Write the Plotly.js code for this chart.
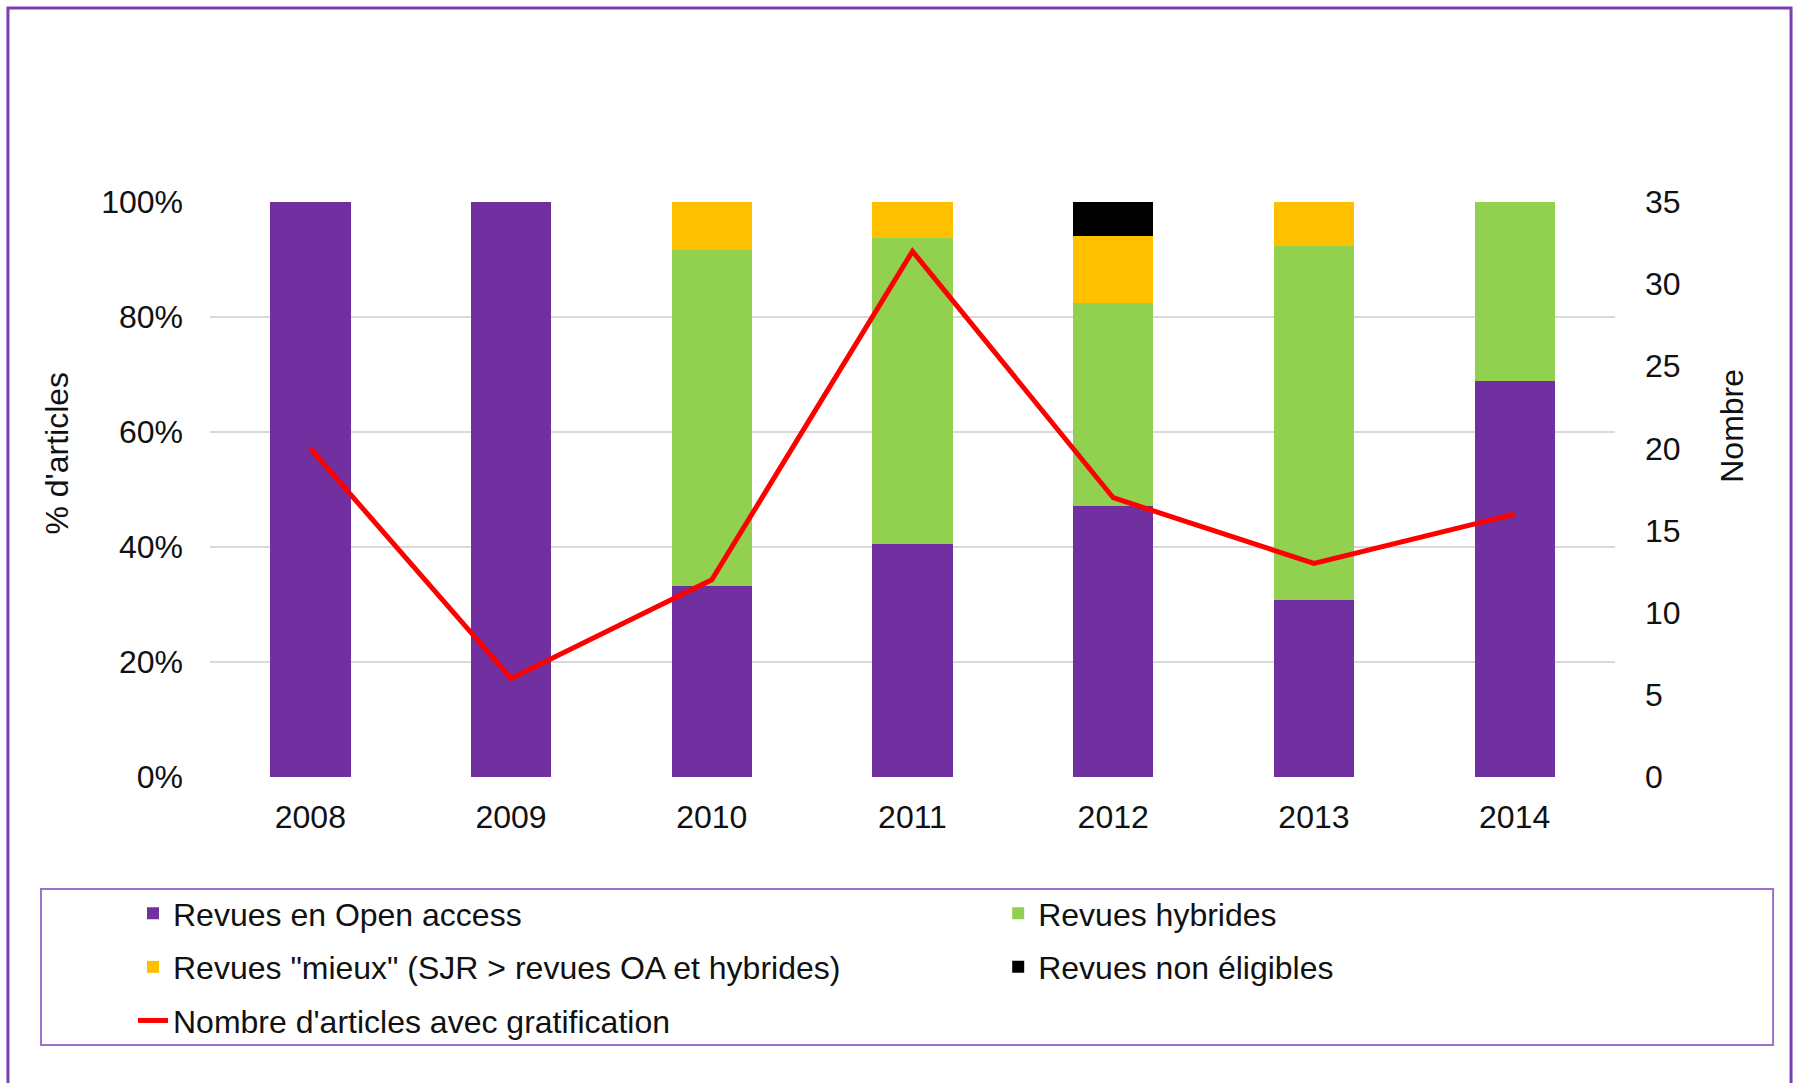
<!DOCTYPE html>
<html>
<head>
<meta charset="utf-8">
<script src="https://cdn.plot.ly/plotly-3.0.1.min.js"></script>
<style>
html, body { margin: 0; padding: 0; background: #fff; }
#chart { width: 1796px; height: 1083px; }
</style>
</head>
<body>
<div id="chart"></div>
<script>
const years = ['2008', '2009', '2010', '2011', '2012', '2013', '2014'];
const openAccess = [1.0, 1.0, 0.333, 0.406, 0.471, 0.308, 0.688];
const hybrides = [0, 0, 0.583, 0.531, 0.353, 0.615, 0.312];
const mieux = [0, 0, 0.084, 0.063, 0.117, 0.077, 0];
const nonEligibles = [0, 0, 0, 0, 0.059, 0, 0];
const nombreArticles = [20, 6, 12, 32, 17, 13, 16];
const leftTitle = "% d'articles";
const rightTitle = 'Nombre';

const FONT = 'Liberation Sans, Arial, sans-serif';
const fs = 32;

const traces = [
  { type: 'bar', name: 'Revues en Open access', x: years, y: openAccess,
    marker: { color: '#7030A0', line: { width: 0 } }, legend: 'legend', legendgroup: 'a' },
  { type: 'bar', name: 'Revues hybrides', x: years, y: hybrides,
    marker: { color: '#92D050', line: { width: 0 } }, legend: 'legend2', legendgroup: 'b' },
  { type: 'bar', name: 'Revues "mieux" (SJR > revues OA et hybrides)', x: years, y: mieux,
    marker: { color: '#FFC000', line: { width: 0 } }, legend: 'legend', legendgroup: 'c' },
  { type: 'bar', name: 'Revues non éligibles', x: years, y: nonEligibles,
    marker: { color: '#000000', line: { width: 0 } }, legend: 'legend2', legendgroup: 'd' },
  { type: 'scatter', mode: 'lines', name: "Nombre d'articles avec gratification", x: years, y: nombreArticles,
    yaxis: 'y2', line: { color: '#FF0000', width: 5 }, legend: 'legend', legendgroup: 'e' }
];

const legendCommon = {
  orientation: 'v', xanchor: 'left', yanchor: 'top',
  font: { family: FONT, size: fs, color: '#111' },
  bgcolor: 'rgba(0,0,0,0)', borderwidth: 0,
  traceorder: 'grouped', tracegroupgap: 9, itemwidth: 30
};

const layout = {
  width: 1796, height: 1083,
  paper_bgcolor: '#ffffff', plot_bgcolor: '#ffffff',
  margin: { l: 210, r: 181, t: 202, b: 306, autoexpand: false },
  barmode: 'stack', bargap: 0.6,
  font: { family: FONT, size: fs, color: '#111' },
  showlegend: true,
  legend: Object.assign({}, legendCommon, { x: -0.0548, y: -0.1895 }),
  legend2: Object.assign({}, legendCommon, { x: 0.561, y: -0.1895 }),
  xaxis: {
    type: 'category', showgrid: false, zeroline: false, showline: false,
    ticks: '', ticklabelstandoff: 18,
    tickfont: { family: FONT, size: fs, color: '#111' }
  },
  yaxis: {
    range: [0, 1], dtick: 0.2, tick0: 0, tickformat: '.0%',
    showgrid: true, gridcolor: '#D9D9D9', gridwidth: 1.5, zeroline: false, showline: false,
    ticks: '', ticklabelstandoff: 26, automargin: false,
    tickfont: { family: FONT, size: fs, color: '#111' }
  },
  yaxis2: {
    overlaying: 'y', side: 'right', range: [0, 35], dtick: 5, tick0: 0,
    showgrid: false, zeroline: false, showline: false,
    ticks: '', ticklabelstandoff: 29, automargin: false,
    tickfont: { family: FONT, size: fs, color: '#111' }
  },
  annotations: [
    { text: leftTitle, xref: 'paper', yref: 'paper', x: -0.1089, y: 0.5643,
      xanchor: 'center', yanchor: 'middle', textangle: -90, showarrow: false,
      font: { family: FONT, size: fs, color: '#111' } },
    { text: rightTitle, xref: 'paper', yref: 'paper', x: 1.0831, y: 0.6104,
      xanchor: 'center', yanchor: 'middle', textangle: -90, showarrow: false,
      font: { family: FONT, size: fs, color: '#111' } }
  ],
  shapes: [
    { type: 'rect', xref: 'paper', yref: 'paper', x0: -0.1438, x1: 1.1253, y0: -0.56, y1: 1.3374,
      line: { color: '#7A3FB0', width: 3 }, fillcolor: 'rgba(0,0,0,0)', layer: 'above' },
    { type: 'rect', xref: 'paper', yref: 'paper', x0: -0.1203, x1: 1.1125, y0: -0.4661, y1: -0.1948,
      line: { color: '#9B72C9', width: 2 }, fillcolor: 'rgba(0,0,0,0)', layer: 'above' }
  ]
};

Plotly.newPlot('chart', traces, layout, { displayModeBar: false, staticPlot: true });
</script>
</body>
</html>
